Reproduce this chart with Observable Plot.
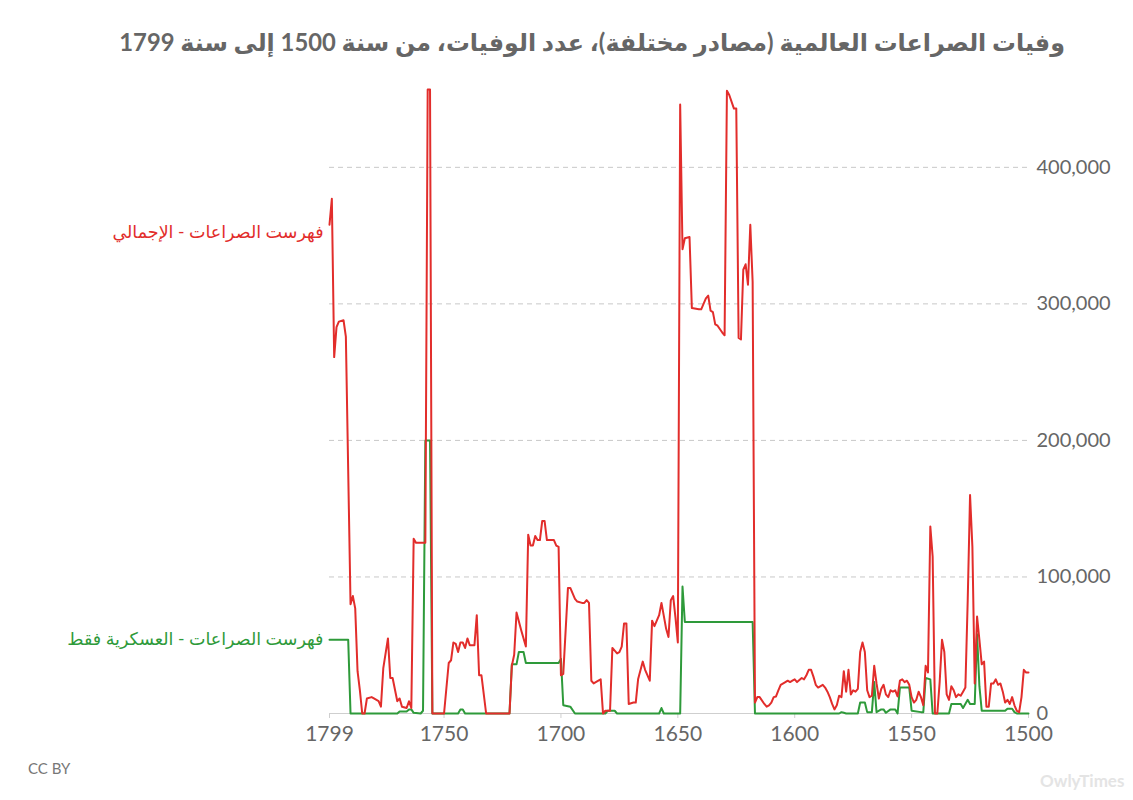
<!DOCTYPE html>
<html lang="ar">
<head>
<meta charset="utf-8">
<script src="https://cdn.jsdelivr.net/npm/d3@7"></script>
<script src="https://cdn.jsdelivr.net/npm/@observablehq/plot@0.6"></script>
<style>
  html, body { margin: 0; padding: 0; background: #fff; }
  body { width: 1133px; height: 800px; position: relative; overflow: hidden; font-family: Lato, "DejaVu Sans", sans-serif; }
  #title { position: absolute; top: 22px; left: 0; width: 1065px; text-align: right; direction: rtl;
           font-size: 23.8px; font-weight: bold; color: #666; line-height: 40px; white-space: nowrap; }
  #chart { position: absolute; top: 70px; left: 0; }
  #caption { position: absolute; top: 759px; left: 28px; font-size: 15px; color: #777; }
  #mark { position: absolute; top: 770px; left: 1040px; font-size: 17px; color: #e4e4e4; font-weight: bold; }
</style>
</head>
<body>
<div id="title">وفيات الصراعات العالمية (مصادر مختلفة)، عدد الوفيات، من سنة 1500 إلى سنة 1799</div>
<div id="chart"></div>
<div id="caption">CC BY</div>
<div id="mark">OwlyTimes</div>
<script>
// Conflict Catalog – total deaths (thousands)
const totalYears = [1799,1798,1797,1796,1795,1793,1792,1790,1789,1788,1787,1786,1785,1784,1783,1781,1780,1778,1777,1776,1774,1773,1772,1770,1769,1768,1766,1765,1764,1763,1762,1758,1757,1756,1755,1750,1748,1747,1746,1745,1744,1743,1742,1741,1740,1739,1737,1736,1735,1734,1732,1722,1721,1720,1719,1717,1715,1714,1713,1712,1711,1710,1709,1708,1707,1706,1703,1702,1701,1700,1699,1697,1696,1694,1693,1691,1690,1689,1688,1687,1686,1684,1683,1682,1681,1679,1678,1676,1675,1674,1673,1672,1671,1669,1668,1667,1665,1664,1662,1661,1660,1659,1658,1657,1655,1654,1653,1652,1651,1650,1649,1648,1647,1645,1644,1641,1640,1638,1637,1636,1635,1634,1633,1631,1630,1629,1628,1626,1625,1624,1623,1622,1621,1620,1619,1618,1617,1616,1615,1613,1612,1611,1610,1609,1608,1607,1606,1604,1603,1602,1601,1600,1599,1597,1596,1595,1594,1593,1592,1591,1590,1588,1587,1586,1585,1584,1583,1582,1581,1580,1579,1578,1577,1576,1575,1574,1573,1572,1571,1570,1569,1568,1567,1566,1565,1564,1563,1562,1561,1560,1559,1558,1557,1556,1555,1554,1553,1552,1551,1550,1549,1548,1547,1546,1545,1544,1543,1542,1541,1540,1539,1538,1537,1536,1535,1534,1533,1532,1531,1530,1529,1528,1527,1526,1525,1524,1523,1522,1521,1520,1519,1518,1517,1516,1515,1514,1513,1512,1511,1510,1509,1508,1507,1506,1505,1504,1503,1502,1501,1500];
const totalDeaths = [358,377,261,283,287,288,276,80,86,77,31,17,0,0,11,12,11,9,5,33,55,26,26,9,11,5,4,9,4,128,125,125,457,457,0,0,37,39,52,51,45,52,52,48,55,50,50,72,28,28,0,0,35,43,74,61,49,131,123,123,130,127,127,141,141,127,127,123,122,28,29,92,92,84,82,81,81,83,81,24,22,24,25,0,2,2,48,44,45,49,66,66,7,8,8,25,38,32,24,68,64,68,72,81,62,56,83,86,70,52,446,340,348,349,297,296,296,304,306,295,294,285,284,279,277,456,453,443,443,275,274,325,329,314,358,316,8,12,12,7,5,6,8,12,12.5,17,21,23,24,23,24,25,23,26,25,28,32,32,27,21,19,21,19,16,12,7,3,6,13,12,31,16,32,14,17,16,18,45,52,45,17,12,13,35,22,11,18,21,14,12,17,16,17,12.5,24,25,23,24,21,12,8,10,16,12,6,35,30,137,115,0,0,23,54,45,14,10,20,17,12,14,13,16,19,83,160,122,22,71,54,36,38,5,5,22,22,25,21,22,16,8,10,7,12,6,2,1,12,32,30,30];

// Conflict Catalog – military deaths only (thousands)
const militaryYears = [1799,1791,1790,1770,1769,1766,1765,1764,1763,1760,1759,1758,1756,1755,1744,1743,1742,1741,1722,1721,1719,1718,1716,1715,1701,1700,1699,1696,1694,1681,1680,1677,1676,1658,1657,1656,1649,1648,1647,1618,1617,1581,1580,1579,1578,1573,1572,1570,1569,1567,1566,1565,1563,1562,1561,1559,1557,1556,1555,1551,1550,1546,1545,1544,1542,1541,1534,1533,1529,1528,1526,1525,1523,1522,1521,1520,1510,1509,1507,1506,1505,1500];
const militaryDeaths = [54,54,0,0,1.5,1.5,3,3,0.5,0,2,200,200,0,0,3,3,0,0,36,36,45,45,37,37,40,6,5,0,0,2,2,0,0,4,0,0,93,67,67,0,0,1,0.5,0,0,8,8,1,1,23,1,3,3,0.5,3,3,0,19,19,2,1,1,26,25,0,0,7,7,4,10,7,7,58,20,2,2,3.5,3.5,1,0,0];

const yTicks = [0, 100000, 200000, 300000, 400000];
const xTicks = [1799, 1750, 1700, 1650, 1600, 1550, 1500];
const totalLabel = "فهرست الصراعات - الإجمالي";
const militaryLabel = "فهرست الصراعات - العسكرية فقط";

const RED = "#e22d2b";
const GREEN = "#2e9a3a";

const total = totalYears.map((y, i) => ({year: y, deaths: totalDeaths[i] * 1000}));
const military = militaryYears.map((y, i) => ({year: y, deaths: militaryDeaths[i] * 1000}));

const chart = Plot.plot({
  width: 1133,
  height: 690,
  marginTop: 19,
  marginBottom: 47,
  marginLeft: 329,
  marginRight: 105,
  style: {fontFamily: 'Lato, "DejaVu Sans", sans-serif', background: "#fff", color: "#666", overflow: "visible"},
  x: {domain: [1799, 1500]},
  y: {domain: [0, 457000]},
  marks: [
    Plot.gridY(yTicks.slice(1), {stroke: "#c8c8c8", strokeOpacity: 1, strokeDasharray: "5,4", strokeWidth: 1}),
    Plot.ruleY([0], {stroke: "#cfcfcf", strokeWidth: 1}),
    Plot.axisX(xTicks, {tickFormat: d => String(d), tickSize: 5, tickPadding: 8, fontSize: 21, stroke: "#cfcfcf", fill: "#666", label: null}),
    Plot.axisY(yTicks, {anchor: "right", tickSize: 0, tickPadding: 8, fontSize: 20, tickFormat: d3.format(","), fill: "#666", label: null}),
    Plot.lineY(military, {x: "year", y: "deaths", stroke: GREEN, strokeWidth: 2}),
    Plot.lineY(total, {x: "year", y: "deaths", stroke: RED, strokeWidth: 2}),
    Plot.text([total[0]], {x: "year", y: "deaths", text: () => totalLabel, textAnchor: "end", dx: -6, dy: 8, fontSize: 17.5, fill: RED}),
    Plot.text([military[0]], {x: "year", y: "deaths", text: () => militaryLabel, textAnchor: "end", dx: -6, dy: 0, fontSize: 17.5, fill: GREEN})
  ]
});
document.getElementById("chart").appendChild(chart);
</script>
</body>
</html>
